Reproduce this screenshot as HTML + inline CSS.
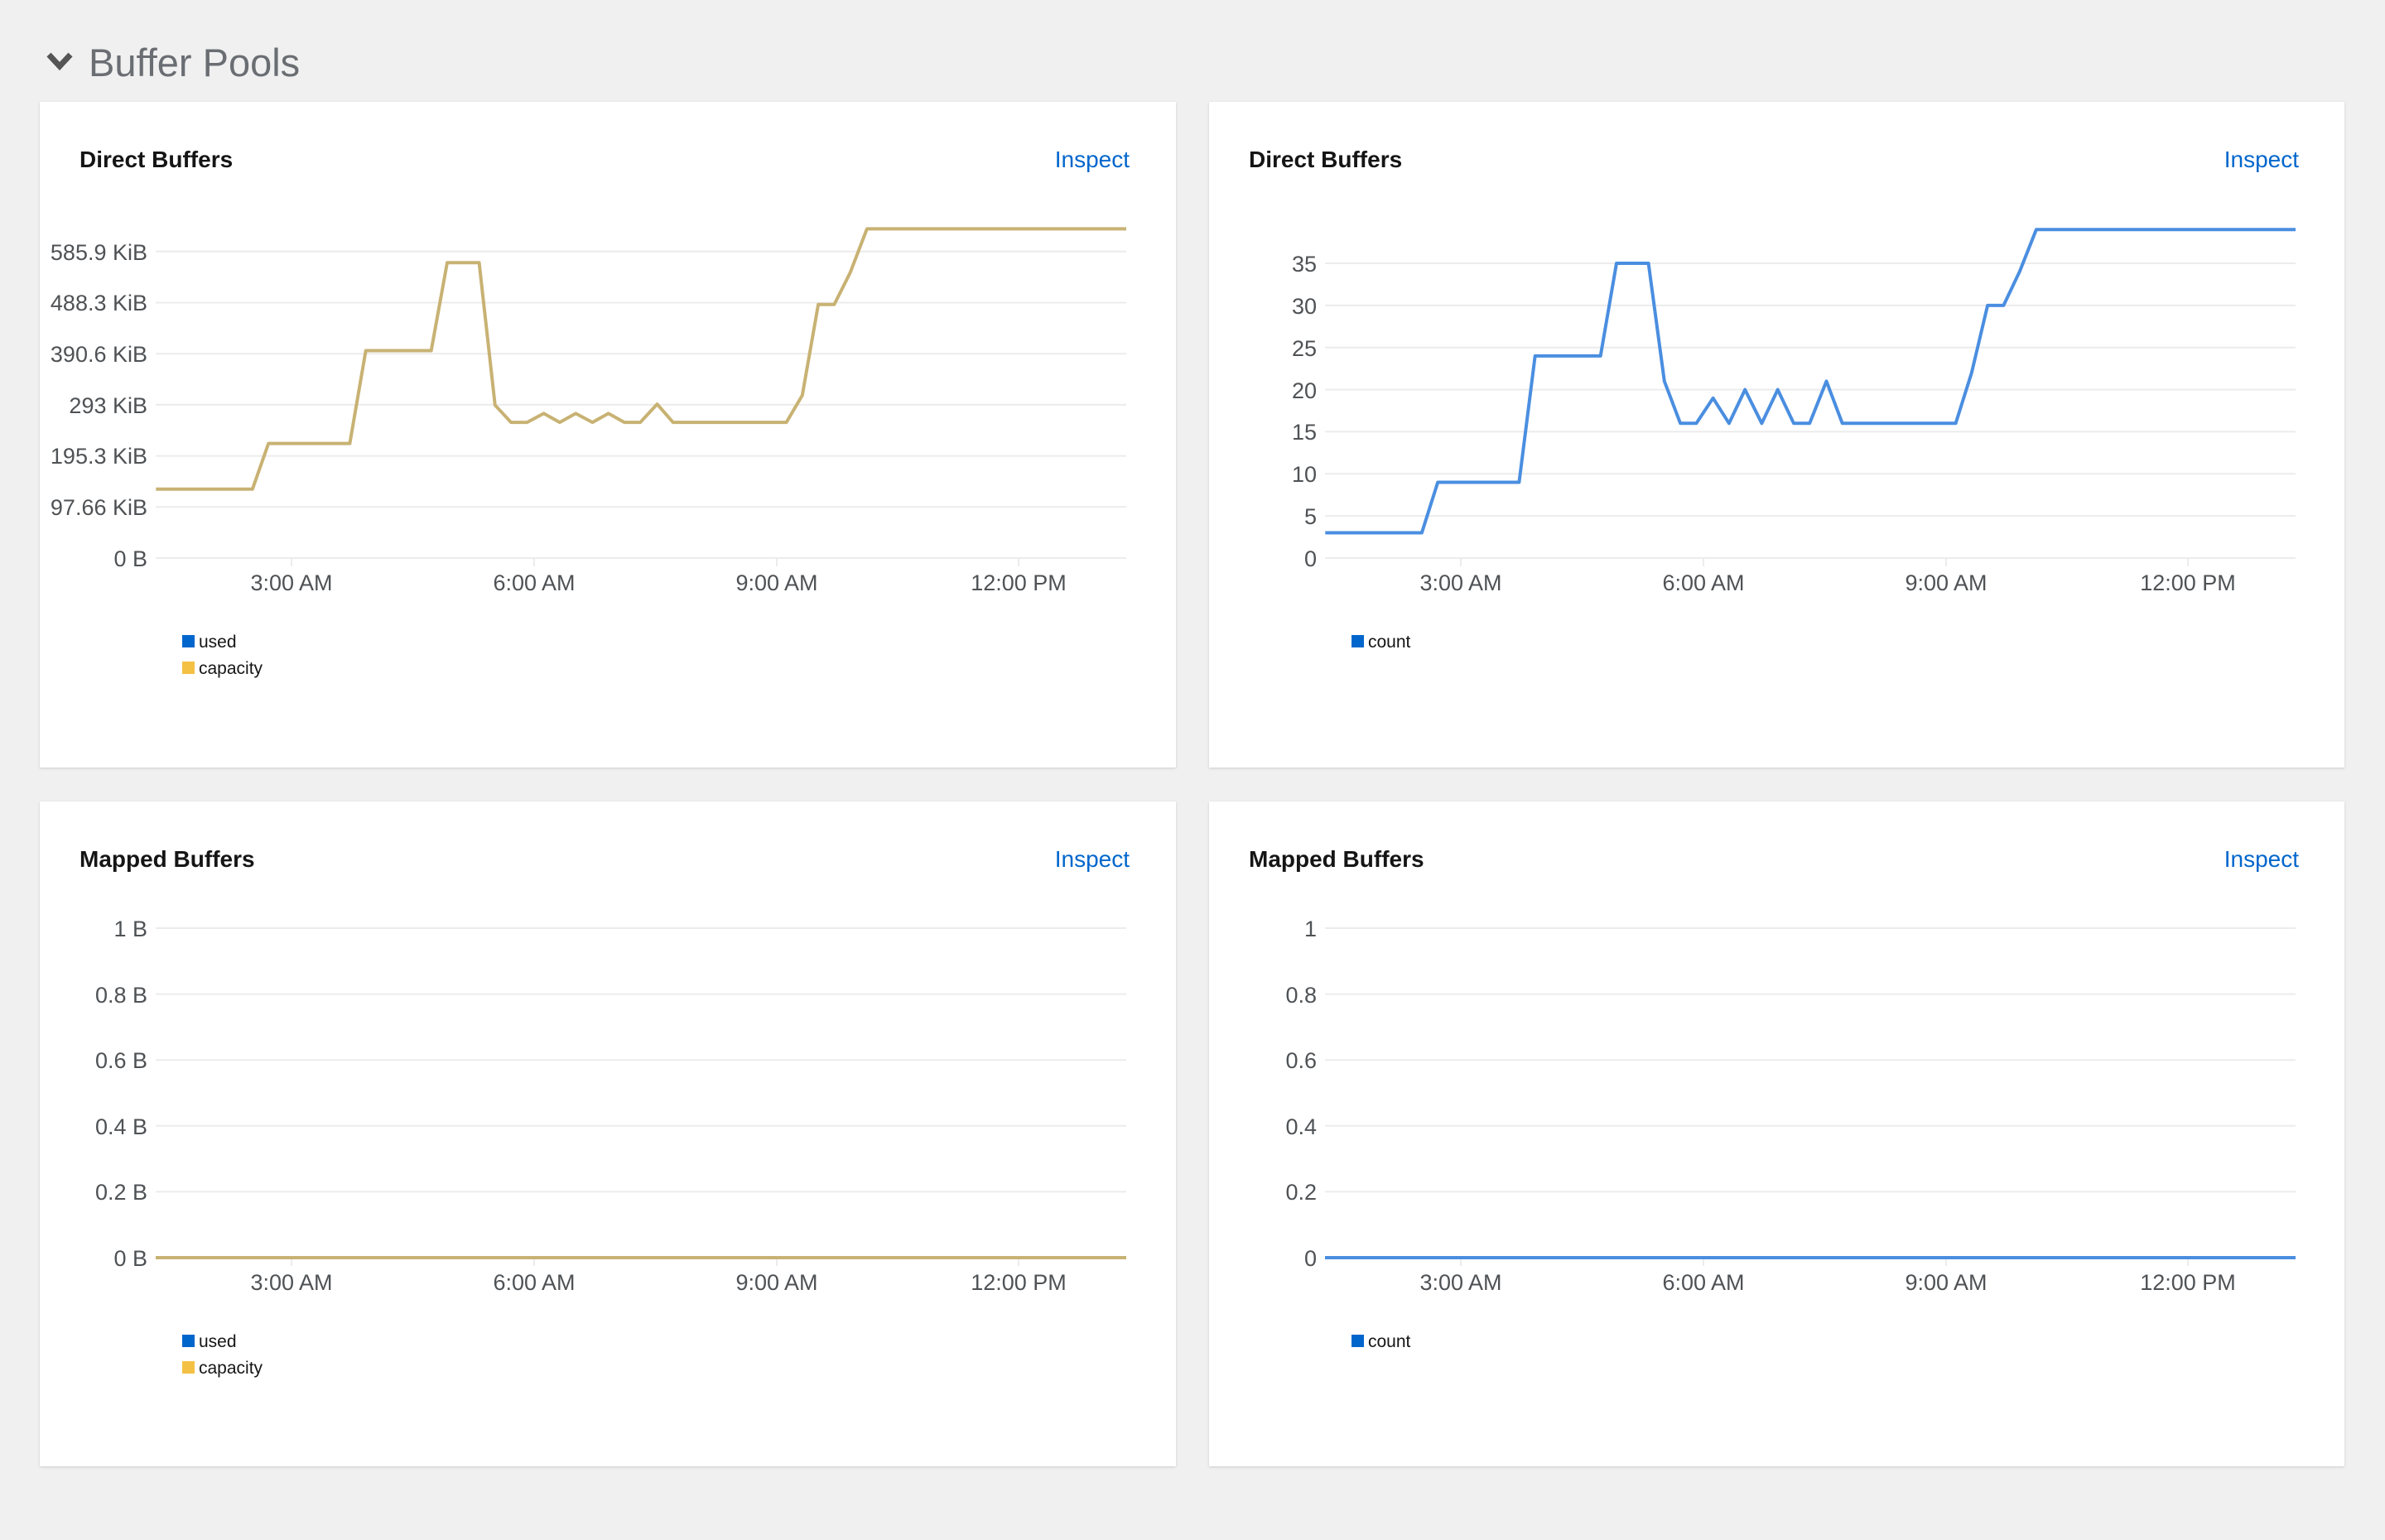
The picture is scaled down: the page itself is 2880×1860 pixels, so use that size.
<!DOCTYPE html>
<html><head><meta charset="utf-8"><style>
body{margin:0;width:2880px;height:1860px;background:#f0f0f0;position:relative;overflow:hidden;font-family:"Liberation Sans",sans-serif}
.card{position:absolute;background:#fff;box-shadow:0 1px 3px rgba(0,0,0,.15)}
svg text{font-family:"Liberation Sans",sans-serif}
</style></head><body>
<svg style="position:absolute;left:0;top:0" width="2880" height="1860">
<polyline points="59,66 72,80 85,66" fill="none" stroke="#555" stroke-width="7"/>
<text x="107" y="92" font-size="47" fill="#6a6e73">Buffer Pools</text>
</svg>

<!-- Card 1 -->
<div class="card" style="left:48px;top:123px;width:1372px;height:804px">
<svg width="1372" height="804">
<text x="48" y="79" font-size="28" font-weight="bold" fill="#151515">Direct Buffers</text>
<text x="1316" y="79" font-size="28" fill="#0066cc" text-anchor="end">Inspect</text>
<g stroke="#ececec" stroke-width="2">
<line x1="140" x2="1312" y1="551" y2="551"/><line x1="140" x2="1312" y1="489.3" y2="489.3"/><line x1="140" x2="1312" y1="427.6" y2="427.6"/><line x1="140" x2="1312" y1="365.9" y2="365.9"/><line x1="140" x2="1312" y1="304.2" y2="304.2"/><line x1="140" x2="1312" y1="242.5" y2="242.5"/><line x1="140" x2="1312" y1="180.8" y2="180.8"/>
<line x1="304" x2="304" y1="551" y2="561"/><line x1="597" x2="597" y1="551" y2="561"/><line x1="890" x2="890" y1="551" y2="561"/><line x1="1182" x2="1182" y1="551" y2="561"/>
</g>
<g font-size="27" fill="#4f5255" text-anchor="end">
<text x="130" y="561">0 B</text><text x="130" y="499">97.66 KiB</text><text x="130" y="437">195.3 KiB</text><text x="130" y="376">293 KiB</text><text x="130" y="314">390.6 KiB</text><text x="130" y="252">488.3 KiB</text><text x="130" y="191">585.9 KiB</text>
</g>
<g font-size="27" fill="#4f5255" text-anchor="middle">
<text x="304" y="590">3:00 AM</text><text x="597" y="590">6:00 AM</text><text x="890" y="590">9:00 AM</text><text x="1182" y="590">12:00 PM</text>
</g>
<g transform="translate(-48,-123)">
<polyline fill="none" stroke="#c8b273" stroke-width="4" stroke-linejoin="round" points="188.3,590.7 304.9,590.7 324.2,535.6 422.4,535.6 441.7,423.5 520.7,423.5 540,317.3 578.6,317.3 597.8,489.3 617.1,510.1 636.4,510.1 656.6,499.4 675.9,510.1 695.2,499.4 715.4,510.1 734.7,499.4 754,510.1 773.2,510.1 793.5,488.1 812.7,510.1 949.6,510.1 968.8,477.5 988.1,367.7 1007.4,367.7 1026.7,329.2 1046.9,276.4 1360,276.4"/>
</g>
<rect x="172" y="644" width="15" height="15" fill="#0066cc"/><text x="192" y="659" font-size="21" fill="#151515">used</text>
<rect x="172" y="676" width="15" height="15" fill="#f4c145"/><text x="192" y="691" font-size="21" fill="#151515">capacity</text>
</svg></div>

<!-- Card 2 -->
<div class="card" style="left:1460px;top:123px;width:1371px;height:804px">
<svg width="1371" height="804">
<text x="48" y="79" font-size="28" font-weight="bold" fill="#151515">Direct Buffers</text>
<text x="1316" y="79" font-size="28" fill="#0066cc" text-anchor="end">Inspect</text>
<g stroke="#ececec" stroke-width="2">
<line x1="140" x2="1312" y1="551" y2="551"/><line x1="140" x2="1312" y1="500.1" y2="500.1"/><line x1="140" x2="1312" y1="449.3" y2="449.3"/><line x1="140" x2="1312" y1="398.4" y2="398.4"/><line x1="140" x2="1312" y1="347.6" y2="347.6"/><line x1="140" x2="1312" y1="296.7" y2="296.7"/><line x1="140" x2="1312" y1="245.9" y2="245.9"/><line x1="140" x2="1312" y1="195" y2="195"/>
<line x1="304" x2="304" y1="551" y2="561"/><line x1="597" x2="597" y1="551" y2="561"/><line x1="890" x2="890" y1="551" y2="561"/><line x1="1182" x2="1182" y1="551" y2="561"/>
</g>
<g font-size="27" fill="#4f5255" text-anchor="end">
<text x="130" y="561">0</text><text x="130" y="510">5</text><text x="130" y="459">10</text><text x="130" y="408">15</text><text x="130" y="358">20</text><text x="130" y="307">25</text><text x="130" y="256">30</text><text x="130" y="205">35</text>
</g>
<g font-size="27" fill="#4f5255" text-anchor="middle">
<text x="304" y="590">3:00 AM</text><text x="597" y="590">6:00 AM</text><text x="890" y="590">9:00 AM</text><text x="1182" y="590">12:00 PM</text>
</g>
<polyline fill="none" stroke="#4a8ee0" stroke-width="4" stroke-linejoin="round" points="140.3,520.5 256.9,520.5 276.2,459.5 374.4,459.5 393.7,306.9 472.7,306.9 492,195 530.6,195 549.8,337.4 569.1,388.3 588.4,388.3 608.6,357.8 627.9,388.3 647.2,347.6 667.4,388.3 686.7,347.6 706,388.3 725.2,388.3 745.5,337.4 764.7,388.3 901.6,388.3 920.8,327.3 940.1,245.9 959.4,245.9 978.7,205.2 998.9,154.3 1312,154.3"/>
<rect x="172" y="644" width="15" height="15" fill="#0066cc"/><text x="192" y="659" font-size="21" fill="#151515">count</text>
</svg></div>

<!-- Card 3 -->
<div class="card" style="left:48px;top:968px;width:1372px;height:803px">
<svg width="1372" height="803">
<text x="48" y="79" font-size="28" font-weight="bold" fill="#151515">Mapped Buffers</text>
<text x="1316" y="79" font-size="28" fill="#0066cc" text-anchor="end">Inspect</text>
<g stroke="#ececec" stroke-width="2">
<line x1="140" x2="1312" y1="471.4" y2="471.4"/><line x1="140" x2="1312" y1="391.8" y2="391.8"/><line x1="140" x2="1312" y1="312.2" y2="312.2"/><line x1="140" x2="1312" y1="232.6" y2="232.6"/><line x1="140" x2="1312" y1="153" y2="153"/>
<line x1="304" x2="304" y1="551" y2="561"/><line x1="597" x2="597" y1="551" y2="561"/><line x1="890" x2="890" y1="551" y2="561"/><line x1="1182" x2="1182" y1="551" y2="561"/>
</g>
<g font-size="27" fill="#4f5255" text-anchor="end">
<text x="130" y="561">0 B</text><text x="130" y="481">0.2 B</text><text x="130" y="402">0.4 B</text><text x="130" y="322">0.6 B</text><text x="130" y="243">0.8 B</text><text x="130" y="163">1 B</text>
</g>
<g font-size="27" fill="#4f5255" text-anchor="middle">
<text x="304" y="590">3:00 AM</text><text x="597" y="590">6:00 AM</text><text x="890" y="590">9:00 AM</text><text x="1182" y="590">12:00 PM</text>
</g>
<line x1="140" x2="1312" y1="551" y2="551" stroke="#c8b273" stroke-width="4"/>
<rect x="172" y="644" width="15" height="15" fill="#0066cc"/><text x="192" y="659" font-size="21" fill="#151515">used</text>
<rect x="172" y="676" width="15" height="15" fill="#f4c145"/><text x="192" y="691" font-size="21" fill="#151515">capacity</text>
</svg></div>

<!-- Card 4 -->
<div class="card" style="left:1460px;top:968px;width:1371px;height:803px">
<svg width="1371" height="803">
<text x="48" y="79" font-size="28" font-weight="bold" fill="#151515">Mapped Buffers</text>
<text x="1316" y="79" font-size="28" fill="#0066cc" text-anchor="end">Inspect</text>
<g stroke="#ececec" stroke-width="2">
<line x1="140" x2="1312" y1="471.4" y2="471.4"/><line x1="140" x2="1312" y1="391.8" y2="391.8"/><line x1="140" x2="1312" y1="312.2" y2="312.2"/><line x1="140" x2="1312" y1="232.6" y2="232.6"/><line x1="140" x2="1312" y1="153" y2="153"/>
<line x1="304" x2="304" y1="551" y2="561"/><line x1="597" x2="597" y1="551" y2="561"/><line x1="890" x2="890" y1="551" y2="561"/><line x1="1182" x2="1182" y1="551" y2="561"/>
</g>
<g font-size="27" fill="#4f5255" text-anchor="end">
<text x="130" y="561">0</text><text x="130" y="481">0.2</text><text x="130" y="402">0.4</text><text x="130" y="322">0.6</text><text x="130" y="243">0.8</text><text x="130" y="163">1</text>
</g>
<g font-size="27" fill="#4f5255" text-anchor="middle">
<text x="304" y="590">3:00 AM</text><text x="597" y="590">6:00 AM</text><text x="890" y="590">9:00 AM</text><text x="1182" y="590">12:00 PM</text>
</g>
<line x1="140" x2="1312" y1="551" y2="551" stroke="#4a8ee0" stroke-width="4"/>
<rect x="172" y="644" width="15" height="15" fill="#0066cc"/><text x="192" y="659" font-size="21" fill="#151515">count</text>
</svg></div>
</body></html>
